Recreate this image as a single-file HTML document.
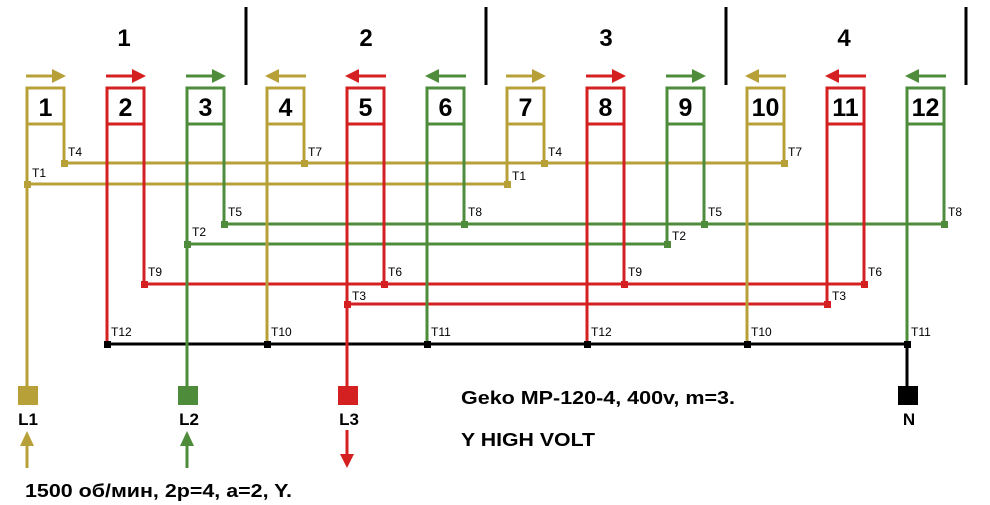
<!DOCTYPE html>
<html><head><meta charset="utf-8"><style>
html,body{margin:0;padding:0;background:#fff;}
svg{display:block;}
text{font-family:"Liberation Sans",Arial,sans-serif;font-weight:bold;fill:#000;}
.t{font-size:12px;font-weight:normal;}
</style></head><body>
<svg width="990" height="505" viewBox="0 0 990 505" xmlns="http://www.w3.org/2000/svg">
<g stroke="#000" stroke-width="3">
<line x1="246" y1="7" x2="246" y2="85"/><line x1="486" y1="7" x2="486" y2="85"/>
<line x1="726" y1="7" x2="726" y2="85"/><line x1="966" y1="7" x2="966" y2="85"/>
</g>
<g font-size="24" text-anchor="middle">
<text x="124" y="46">1</text><text x="366" y="46">2</text><text x="606" y="46">3</text><text x="844" y="46">4</text>
</g>
<g stroke-width="3" fill="none">
<line x1="64" y1="163" x2="784" y2="163" stroke="#b8a038"/>
<line x1="27" y1="184" x2="507" y2="184" stroke="#b8a038"/>
<line x1="224" y1="224" x2="944" y2="224" stroke="#4e8c3c"/>
<line x1="187" y1="244" x2="667" y2="244" stroke="#4e8c3c"/>
<line x1="144" y1="284" x2="864" y2="284" stroke="#d42020"/>
<line x1="347" y1="304" x2="827" y2="304" stroke="#d42020"/>
<line x1="107" y1="344" x2="907" y2="344" stroke="#000"/>
<line x1="907" y1="344" x2="907" y2="395" stroke="#000"/>
</g>
<g stroke-width="3" fill="none">
<g stroke="#b8a038"><line x1="27" y1="88" x2="27" y2="395"/><line x1="64" y1="88" x2="64" y2="163"/>
<line x1="267" y1="88" x2="267" y2="344"/><line x1="304" y1="88" x2="304" y2="163"/>
<line x1="507" y1="88" x2="507" y2="184"/><line x1="544" y1="88" x2="544" y2="163"/>
<line x1="747" y1="88" x2="747" y2="344"/><line x1="784" y1="88" x2="784" y2="163"/></g>
<g stroke="#d42020"><line x1="107" y1="88" x2="107" y2="344"/><line x1="144" y1="88" x2="144" y2="284"/>
<line x1="347" y1="88" x2="347" y2="395"/><line x1="384" y1="88" x2="384" y2="284"/>
<line x1="587" y1="88" x2="587" y2="344"/><line x1="624" y1="88" x2="624" y2="284"/>
<line x1="827" y1="88" x2="827" y2="304"/><line x1="864" y1="88" x2="864" y2="284"/></g>
<g stroke="#4e8c3c"><line x1="187" y1="88" x2="187" y2="395"/><line x1="224" y1="88" x2="224" y2="224"/>
<line x1="427" y1="88" x2="427" y2="344"/><line x1="464" y1="88" x2="464" y2="224"/>
<line x1="667" y1="88" x2="667" y2="244"/><line x1="704" y1="88" x2="704" y2="224"/>
<line x1="907" y1="88" x2="907" y2="344"/><line x1="944" y1="88" x2="944" y2="224"/></g>
</g>
<g stroke-width="3" fill="#fff">
<rect x="27" y="88" width="37" height="36" stroke="#b8a038"/>
<rect x="107" y="88" width="37" height="36" stroke="#d42020"/>
<rect x="187" y="88" width="37" height="36" stroke="#4e8c3c"/>
<rect x="267" y="88" width="37" height="36" stroke="#b8a038"/>
<rect x="347" y="88" width="37" height="36" stroke="#d42020"/>
<rect x="427" y="88" width="37" height="36" stroke="#4e8c3c"/>
<rect x="507" y="88" width="37" height="36" stroke="#b8a038"/>
<rect x="587" y="88" width="37" height="36" stroke="#d42020"/>
<rect x="667" y="88" width="37" height="36" stroke="#4e8c3c"/>
<rect x="747" y="88" width="37" height="36" stroke="#b8a038"/>
<rect x="827" y="88" width="37" height="36" stroke="#d42020"/>
<rect x="907" y="88" width="37" height="36" stroke="#4e8c3c"/>
</g>
<g font-size="25" text-anchor="middle">
<text x="45.5" y="116">1</text><text x="125.5" y="116">2</text><text x="205.5" y="116">3</text><text x="285.5" y="116">4</text>
<text x="365.5" y="116">5</text><text x="445.5" y="116">6</text><text x="525.5" y="116">7</text><text x="605.5" y="116">8</text>
<text x="685.5" y="116">9</text><text x="765.5" y="116">10</text><text x="845.5" y="116">11</text><text x="925.5" y="116">12</text>
</g>
<g stroke-width="3">
<g stroke="#b8a038" fill="#b8a038"><line x1="26" y1="76" x2="55" y2="76"/><polygon points="52,69 66,76 52,83" stroke="none"/>
<line x1="276" y1="76" x2="306" y2="76"/><polygon points="279,69 265,76 279,83" stroke="none"/>
<line x1="506" y1="76" x2="535" y2="76"/><polygon points="532,69 546,76 532,83" stroke="none"/>
<line x1="756" y1="76" x2="786" y2="76"/><polygon points="759,69 745,76 759,83" stroke="none"/></g>
<g stroke="#d42020" fill="#d42020"><line x1="106" y1="76" x2="135" y2="76"/><polygon points="132,69 146,76 132,83" stroke="none"/>
<line x1="356" y1="76" x2="386" y2="76"/><polygon points="359,69 345,76 359,83" stroke="none"/>
<line x1="586" y1="76" x2="615" y2="76"/><polygon points="612,69 626,76 612,83" stroke="none"/>
<line x1="836" y1="76" x2="866" y2="76"/><polygon points="839,69 825,76 839,83" stroke="none"/></g>
<g stroke="#4e8c3c" fill="#4e8c3c"><line x1="186" y1="76" x2="215" y2="76"/><polygon points="212,69 226,76 212,83" stroke="none"/>
<line x1="436" y1="76" x2="466" y2="76"/><polygon points="439,69 425,76 439,83" stroke="none"/>
<line x1="666" y1="76" x2="695" y2="76"/><polygon points="692,69 706,76 692,83" stroke="none"/>
<line x1="916" y1="76" x2="946" y2="76"/><polygon points="919,69 905,76 919,83" stroke="none"/></g>
</g>
<g>
<g fill="#b8a038"><rect x="61" y="160" width="7" height="7"/><rect x="301" y="160" width="7" height="7"/><rect x="541" y="160" width="7" height="7"/><rect x="781" y="160" width="7" height="7"/>
<rect x="24" y="181" width="7" height="7"/><rect x="504" y="181" width="7" height="7"/></g>
<g fill="#4e8c3c"><rect x="221" y="221" width="7" height="7"/><rect x="461" y="221" width="7" height="7"/><rect x="701" y="221" width="7" height="7"/><rect x="941" y="221" width="7" height="7"/>
<rect x="184" y="241" width="7" height="7"/><rect x="664" y="241" width="7" height="7"/></g>
<g fill="#d42020"><rect x="141" y="281" width="7" height="7"/><rect x="381" y="281" width="7" height="7"/><rect x="621" y="281" width="7" height="7"/><rect x="861" y="281" width="7" height="7"/>
<rect x="344" y="301" width="7" height="7"/><rect x="824" y="301" width="7" height="7"/></g>
<g fill="#000"><rect x="104" y="341" width="7" height="7"/><rect x="264" y="341" width="7" height="7"/><rect x="424" y="341" width="7" height="7"/><rect x="584" y="341" width="7" height="7"/><rect x="744" y="341" width="7" height="7"/><rect x="904" y="341" width="7" height="7"/></g>
</g>
<g>
<text class="t" x="68" y="156">T4</text><text class="t" x="308" y="156">T7</text><text class="t" x="548" y="156">T4</text><text class="t" x="788" y="156">T7</text>
<text class="t" x="32" y="177">T1</text><text class="t" x="512" y="180">T1</text>
<text class="t" x="228" y="216">T5</text><text class="t" x="468" y="216">T8</text><text class="t" x="708" y="216">T5</text><text class="t" x="948" y="216">T8</text>
<text class="t" x="192" y="236">T2</text><text class="t" x="672" y="240">T2</text>
<text class="t" x="148" y="276">T9</text><text class="t" x="388" y="276">T6</text><text class="t" x="628" y="276">T9</text><text class="t" x="868" y="276">T6</text>
<text class="t" x="352" y="300">T3</text><text class="t" x="832" y="300">T3</text>
<text class="t" x="111" y="336">T12</text><text class="t" x="271" y="336">T10</text><text class="t" x="431" y="336">T11</text><text class="t" x="591" y="336">T12</text><text class="t" x="751" y="336">T10</text><text class="t" x="911" y="336">T11</text>
</g>
<rect x="18" y="386" width="20" height="19" fill="#b8a038"/>
<rect x="178" y="386" width="20" height="19" fill="#4e8c3c"/>
<rect x="338" y="386" width="20" height="19" fill="#d42020"/>
<rect x="898" y="386" width="20" height="19" fill="#000"/>
<g font-size="17" text-anchor="middle">
<text x="28" y="425">L1</text><text x="189" y="425">L2</text><text x="349" y="425">L3</text><text x="909" y="425">N</text>
</g>
<g stroke-width="3">
<line x1="27" y1="468" x2="27" y2="440" stroke="#b8a038"/><polygon points="20,446 27,431 34,446" fill="#b8a038"/>
<line x1="187" y1="468" x2="187" y2="440" stroke="#4e8c3c"/><polygon points="180,446 187,431 194,446" fill="#4e8c3c"/>
<line x1="347" y1="430" x2="347" y2="458" stroke="#d42020"/><polygon points="340,454 347,468 354,454" fill="#d42020"/>
</g>
<g font-size="18">
<text x="461" y="404" textLength="274" lengthAdjust="spacingAndGlyphs">Geko MP-120-4, 400v, m=3.</text>
<text x="461" y="446" textLength="134" lengthAdjust="spacingAndGlyphs">Y HIGH VOLT</text>
<text x="25" y="497" textLength="267" lengthAdjust="spacingAndGlyphs">1500 об/мин, 2p=4, a=2, Y.</text>
</g>
</svg>
</body></html>
